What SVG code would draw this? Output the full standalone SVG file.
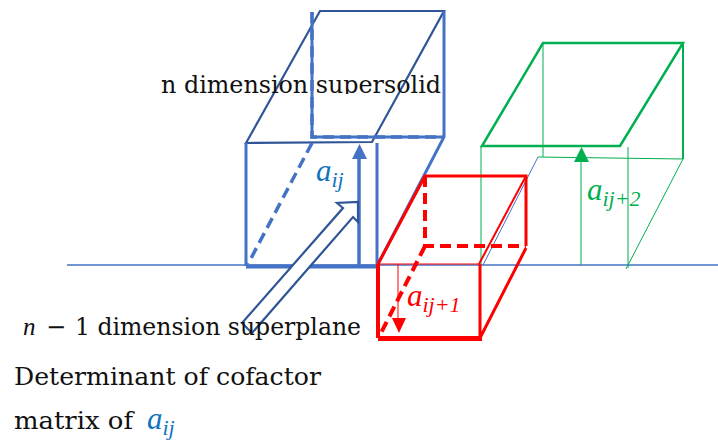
<svg xmlns="http://www.w3.org/2000/svg" width="718" height="440" viewBox="0 0 718 440">
<style>
.t{font-family:"DejaVu Serif","Liberation Serif",serif;font-size:24px;fill:#111}
.m{font-family:"Liberation Serif",serif;font-style:italic}
.ma{font-size:31px}.ms{font-size:22px}
.f{fill:none;stroke-linejoin:miter}
.db{stroke:#2f5597;stroke-width:2.2}
.b{stroke:#4472c4}
.r{stroke:#ff0000}
.g{stroke:#00b050}
.d{stroke-dasharray:11 6}
</style>
<defs><clipPath id="c"><rect x="150" y="60" width="310" height="34"/></clipPath></defs>
<rect width="718" height="440" fill="#fff"/>
<g id="connectors" class="f">
<path class="b" stroke-width="1.5" d="M67 265H718"/>
</g>
<g id="blue-solid" class="f">
<path class="db" d="M246 143L320 11H444L372 142Z"/>
<path class="b" stroke-width="3" d="M444 11V137L378 264M377 143V265M312 12V137H444M246 143V266"/>
<path class="b" stroke-width="4" d="M246 266.500H378"/>
<path class="b d" stroke-width="3.500" d="M312 12V137H444M312 143L248 264"/>
<path class="b" stroke-width="3.500" d="M359 266V156"/>
<path fill="#4472c4" d="M352 159L359.500 144L367 159Z"/>
<path class="db" fill="#fff" d="M242 323L343 208L337 203L358 202L358 222L353 217L252 333Z"/>
</g>
<g id="green-solid" class="f">
<path class="g" stroke-width="2.500" d="M482 146L543 43H683L620 146Z"/>
<path class="g" stroke-width="2" d="M683 43V159"/>
<path class="g" stroke-width="1" d="M543 43V157M538 157L683 159L626 269M481 146V264M628 147V268M581 265V160"/>
<path fill="#00b050" d="M574 162L581.500 147L589 162Z"/>
<path class="b" stroke-width="1" d="M538 157L483 265"/>
</g>
<g id="red-solid" class="f">
<path class="r" stroke-width="3" d="M378 264L425 176H526V246"/>
<path class="r" stroke-width="1" d="M378 264H480M398 264V320"/>
<path class="r" stroke-width="2" d="M526 176L479 264"/>
<path class="r" stroke-width="3" d="M526 248L480 338V264"/>
<path class="r" stroke-width="4" d="M378 264V338"/>
<path class="r" stroke-width="5" d="M378 338.500H482"/>
<path class="r d" stroke-width="4" d="M425 176V246H526M425 246L380 335"/>
<path fill="#ff0000" d="M392 318H406L399 333Z"/>
</g>
<g id="label-supersolid"><text class="t" x="161" y="93" textLength="280" lengthAdjust="spacingAndGlyphs" clip-path="url(#c)">n dimension supersolid</text></g>
<g id="label-aij"><text x="316" y="181" fill="#0f75bc" class="m"><tspan class="ma">a</tspan><tspan class="ms" dy="6">ij</tspan></text></g>
<g id="label-aij1"><text x="407" y="306" fill="#ff0000" class="m"><tspan class="ma">a</tspan><tspan class="ms" dy="6">ij+1</tspan></text></g>
<g id="label-aij2"><text x="587" y="200" fill="#00b050" class="m"><tspan class="ma">a</tspan><tspan class="ms" dy="6">ij+2</tspan></text></g>
<g id="label-superplane"><text class="t" x="23" y="335"><tspan class="m" font-size="25">n</tspan></text><text class="t" x="46" y="335">−</text><text class="t" x="75" y="335" textLength="286" lengthAdjust="spacingAndGlyphs">1 dimension superplane</text></g>
<g id="label-determinant"><text class="t" x="14" y="385" textLength="307" lengthAdjust="spacingAndGlyphs">Determinant of cofactor</text>
<text class="t" x="14" y="429" textLength="119" lengthAdjust="spacingAndGlyphs">matrix of</text>
<text x="147" y="429" fill="#0f75bc" class="m"><tspan class="ma">a</tspan><tspan class="ms" dy="6">ij</tspan></text></g>
</svg>
